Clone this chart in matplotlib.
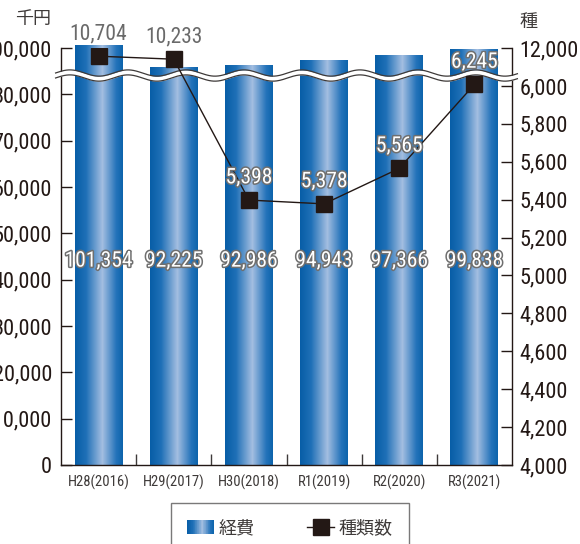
import numpy as np
import matplotlib
matplotlib.use("Agg")
import matplotlib.pyplot as plt
import matplotlib.patheffects as pe
from matplotlib.colors import LinearSegmentedColormap
from matplotlib.legend_handler import HandlerBase
from matplotlib.lines import Line2D
from matplotlib.patches import Rectangle

plt.rcParams['font.family'] = ['Roboto Condensed', 'Noto Sans CJK JP', 'DejaVu Sans']

years = ['H28(2016)', 'H29(2017)', 'H30(2018)', 'R1(2019)', 'R2(2020)', 'R3(2021)']
costs = [101354, 92225, 92986, 94943, 97366, 99838]      # 経費 (千円)
kinds = [10704, 10233, 5398, 5378, 5565, 6245]            # 種類数

left_ticks = [0, 10000, 20000, 30000, 40000, 50000, 60000, 70000, 80000, 100000]
right_ticks = [4000, 4200, 4400, 4600, 4800, 5000, 5200, 5400, 5600, 5800, 6000, 12000]

INK = '#231815'
TXT = '#3e3a39'

# broken axes: piecewise linear scales, compressed above the break
lx = [-1e6, 0, 80000, 100000, 1e6]
ly = [-100, 0, 8, 9, 9 + 900000 / 20000]
rx = [-1e6, 4000, 6000, 12000, 1e6]
ry = [(-1e6 - 4000) / 2000 * 8.18, 0, 8.18, 9, 9 + (1e6 - 12000) / 6000 * 0.82]


def lfwd(v):
    return np.interp(v, lx, ly)


def linv(u):
    return np.interp(u, ly, lx)


def rfwd(v):
    return np.interp(v, rx, ry)


def rinv(u):
    return np.interp(u, ry, rx)


bar_cmap = LinearSegmentedColormap.from_list(
    'bar', [(0, '#085ea7'), (0.22, '#1f70b7'), (0.56, '#a3bee1'),
            (0.85, '#2473ba'), (1, '#0a62aa')])


class GradientHandler(HandlerBase):
    def create_artists(self, legend, orig_handle, xdescent, ydescent,
                       width, height, fontsize, trans):
        n = 40
        arts = []
        for i in range(n):
            arts.append(Rectangle((-xdescent + width * i / n, -ydescent),
                                  width / n * 1.1, height,
                                  facecolor=bar_cmap((i + 0.5) / n),
                                  edgecolor='none', transform=trans))
        return arts


fig = plt.figure(figsize=(5.8, 5.44), dpi=100)
ax = fig.add_axes([61 / 580, 1 - 465 / 544, 451 / 580, 417 / 544])
ax2 = ax.twinx()

ax.set_yscale('function', functions=(lfwd, linv))
ax2.set_yscale('function', functions=(rfwd, rinv))

x = np.arange(len(years))
w = 0.64
bars = ax.bar(x, costs, width=w, color='none', edgecolor='none', zorder=2)
grad = np.linspace(0, 1, 256).reshape(1, -1)
for b in bars:
    im = ax.imshow(grad, cmap=bar_cmap, aspect='auto', zorder=2,
                   extent=(b.get_x(), b.get_x() + b.get_width(), 0, b.get_height()))
    im.set_clip_path(b)

stroke = [pe.withStroke(linewidth=2.2, foreground='#6f6f6f')]
for xi, v in zip(x, costs):
    ax.text(xi, 44000, f'{v:,}', ha='center', va='center', fontsize=15.5,
            color='white', path_effects=stroke, zorder=5)

ax.set_xlim(-0.5, len(years) - 0.5)
ax.set_ylim(0, 100000)
ax.set_yticks(left_ticks)
ax.set_yticklabels([f'{t:,}' for t in left_ticks])
ax.set_xticks(x)
ax.set_xticklabels(years)
ax.set_xticks(x[:-1] + 0.5, minor=True)
ax.tick_params(axis='x', which='major', length=0, pad=7, labelsize=10.5, labelcolor=TXT)
ax.tick_params(axis='x', which='minor', direction='in', length=8, width=1, color=TXT)
ax.tick_params(axis='y', direction='in', length=8, width=1, color=INK,
               labelsize=16, labelcolor=INK, pad=6.5)

# 種類数
ax2.plot(x, kinds, color=INK, lw=1, marker='s', ms=11.5, zorder=4)
for xi, v in zip(x, kinds):
    if v > 10000:
        ax2.annotate(f'{v:,}', (xi, v), xytext=(0, 16), textcoords='offset points',
                     ha='center', va='center', fontsize=15.5, color='#6a6a6a', zorder=5)
    else:
        ax2.annotate(f'{v:,}', (xi, v), xytext=(0, 16), textcoords='offset points',
                     ha='center', va='center', fontsize=15.5, color='white',
                     path_effects=stroke, zorder=5)
ax2.set_ylim(4000, 12000)
ax2.set_yticks(right_ticks)
ax2.set_yticklabels([f'{t:,}' for t in right_ticks])
ax2.tick_params(axis='y', direction='in', length=8, width=1, color=INK,
                labelsize=16, labelcolor=INK, pad=5.5)

for a in (ax, ax2):
    a.spines['top'].set_visible(False)
    for s in ('left', 'right', 'bottom'):
        a.spines[s].set_color(INK)
        a.spines[s].set_linewidth(1)
ax.spines['right'].set_visible(False)
ax2.spines['left'].set_visible(False)
ax2.spines['bottom'].set_visible(False)

# wavy break across both axes
wx = np.linspace(-0.012, 1.012, 600)
wy = 0.934 + 0.0075 * np.sin(2 * np.pi * (wx * 451) / 58 + 0.6)
ax2.fill_between(wx, wy - 0.006, wy + 0.006, color='white', lw=0,
                 transform=ax2.transAxes, clip_on=False, zorder=3)
for off in (-0.006, 0.006):
    ax2.plot(wx, wy + off, color='#3e3a39', lw=0.9, transform=ax2.transAxes,
             clip_on=False, zorder=3)

fig.text(33 / 580, 1 - 19 / 544, '千円', ha='center', va='center', fontsize=13,
         color=TXT, family='Noto Sans CJK JP')
fig.text(528 / 580, 1 - 22 / 544, '種', ha='center', va='center', fontsize=13,
         color=TXT, family='Noto Sans CJK JP')

bar_proxy = Rectangle((0, 0), 1, 1)
line_proxy = Line2D([], [], color=INK, lw=1, marker='s', ms=11.5)
leg = fig.legend([bar_proxy, line_proxy], ['経費', '種類数'],
                 handler_map={bar_proxy: GradientHandler()},
                 loc='upper center', bbox_to_anchor=(0.5, 1 - 503 / 544),
                 ncol=2, frameon=True, fancybox=False,
                 handlelength=1.5, handleheight=0.85, handletextpad=0.25,
                 columnspacing=2.9, borderpad=0.9, borderaxespad=0,
                 prop={'family': 'Noto Sans CJK JP', 'size': 13})
leg.get_frame().set_edgecolor('#595757')
leg.get_frame().set_linewidth(1)
for t in leg.get_texts():
    t.set_color(TXT)

fig.savefig('out.png', dpi=100)
